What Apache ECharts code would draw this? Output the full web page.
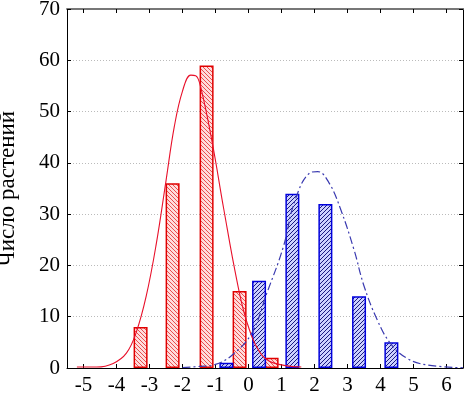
<!DOCTYPE html>
<html>
<head>
<meta charset="utf-8">
<script src="https://cdn.jsdelivr.net/npm/echarts@6/dist/echarts.min.js"></script>
<style>
  html, body { margin: 0; padding: 0; background: #fff; }
  #chart { width: 465px; height: 397px; }
</style>
</head>
<body>
<div id="chart"></div>
<script>
const xTicks = [-5, -4, -3, -2, -1, 0, 1, 2, 3, 4, 5, 6]

const redBarX = [-3.27, -2.3, -1.27, -0.27, 0.7]
const redBarY = [8, 36, 59, 15, 2]

const blueBarX = [-0.67, 0.32, 1.33, 2.33, 3.35, 4.33]
const blueBarY = [1, 17, 34, 32, 14, 5]

const redCurveX = [-5.2, -4.6, -4.1, -3.7, -3.4, -3.1, -2.8, -2.5, -2.25, -2.0, -1.75, -1.6, -1.45, -1.1, -0.75, -0.35, -0.05, 0.35, 0.75, 1.6]
const redCurveY = [0.2, 0.2, 0.9, 2.9, 7, 14, 24, 36.5, 47, 54, 57.1, 57, 54.8, 44, 31, 17, 9, 3, 1, 0.2]

const blueCurveX = [-2.0, -1.5, -1.0, -0.5, 0.1, 0.55, 1.05, 1.4, 1.85, 2.1, 2.45, 2.8, 3.2, 3.5, 3.9, 4.3, 4.8, 5.4, 6.5]
const blueCurveY = [0.1, 0.3, 0.7, 2.5, 6.8, 14.5, 23.5, 32.5, 38, 38.3, 36, 30.8, 23, 16, 9.4, 4.8, 1.9, 0.6, 0.05]

function zip(xs, ys) {
  return xs.map((x, i) => [x, ys[i]])
}

function makeHatch(bg, line, dir) {
  const s = 4
  const c = document.createElement('canvas')
  c.width = s
  c.height = s
  const ctx = c.getContext('2d')
  ctx.fillStyle = bg
  ctx.fillRect(0, 0, s, s)
  ctx.strokeStyle = line
  ctx.lineWidth = 1
  for (let k = -1; k <= 1; k++) {
    ctx.beginPath()
    if (dir === 'back') {
      ctx.moveTo(k * s, 0)
      ctx.lineTo(k * s + s, s)
    } else {
      ctx.moveTo(k * s, s)
      ctx.lineTo(k * s + s, 0)
    }
    ctx.stroke()
  }
  return { image: c, repeat: 'repeat' }
}

const font = '"Liberation Serif", "DejaVu Serif", serif'
const chart = echarts.init(document.getElementById('chart'))

const xBase = {
  type: 'value',
  min: -5.5,
  max: 6.5,
  splitLine: { show: false },
  axisTick: { show: true, inside: true, length: 4, customValues: xTicks, lineStyle: { color: '#000' } }
}

const yBase = {
  type: 'value',
  min: 0,
  max: 70,
  interval: 10,
  axisTick: { show: true, inside: true, length: 4, lineStyle: { color: '#000' } }
}

const option = {
  animation: false,
  backgroundColor: '#fff',
  grid: { left: 67, right: 2, top: 9, bottom: 29, containLabel: false, outerBoundsMode: 'none' },
  xAxis: [
    {
      ...xBase,
      position: 'bottom',
      axisLine: { show: true, onZero: false, lineStyle: { color: '#000', width: 1 } },
      axisLabel: { show: true, customValues: xTicks, color: '#000', fontFamily: font, fontSize: 21, margin: 7 }
    },
    {
      ...xBase,
      position: 'top',
      axisLine: { show: true, onZero: false, lineStyle: { color: '#777', width: 2 } },
      axisLabel: { show: false }
    }
  ],
  yAxis: [
    {
      ...yBase,
      position: 'left',
      name: 'Число растений',
      nameLocation: 'middle',
      nameGap: 48,
      nameTextStyle: { color: '#000', fontFamily: font, fontSize: 23 },
      axisLine: { show: true, onZero: false, lineStyle: { color: '#000', width: 1 } },
      axisLabel: { color: '#000', fontFamily: font, fontSize: 21, margin: 7 },
      splitLine: { show: true, lineStyle: { color: '#bbb', type: [1, 2], width: 1 } }
    },
    {
      ...yBase,
      position: 'right',
      axisLine: { show: true, onZero: false, lineStyle: { color: '#000', width: 1 } },
      axisLabel: { show: false },
      splitLine: { show: false }
    }
  ],
  series: [
    {
      type: 'bar',
      barWidth: 14,
      barGap: '-100%',
      data: zip(redBarX, redBarY),
      itemStyle: {
        color: makeHatch('#ffdcdc', '#e85050', 'back'),
        borderColor: '#e00000',
        borderWidth: 1.5
      }
    },
    {
      type: 'bar',
      barWidth: 14,
      barGap: '-100%',
      data: zip(blueBarX, blueBarY),
      itemStyle: {
        color: makeHatch('#ccd0ff', '#1a1a80', 'fwd'),
        borderColor: '#0000dd',
        borderWidth: 1.5
      }
    },
    {
      type: 'line',
      smooth: 0.4,
      showSymbol: false,
      data: zip(redCurveX, redCurveY),
      lineStyle: { color: '#e8102a', width: 1.1 },
      z: 5
    },
    {
      type: 'line',
      smooth: 0.4,
      showSymbol: false,
      data: zip(blueCurveX, blueCurveY),
      lineStyle: { color: '#3a3ab0', width: 1.2, type: [8, 3, 2, 3] },
      z: 5
    }
  ]
}

chart.setOption(option)
</script>
</body>
</html>
